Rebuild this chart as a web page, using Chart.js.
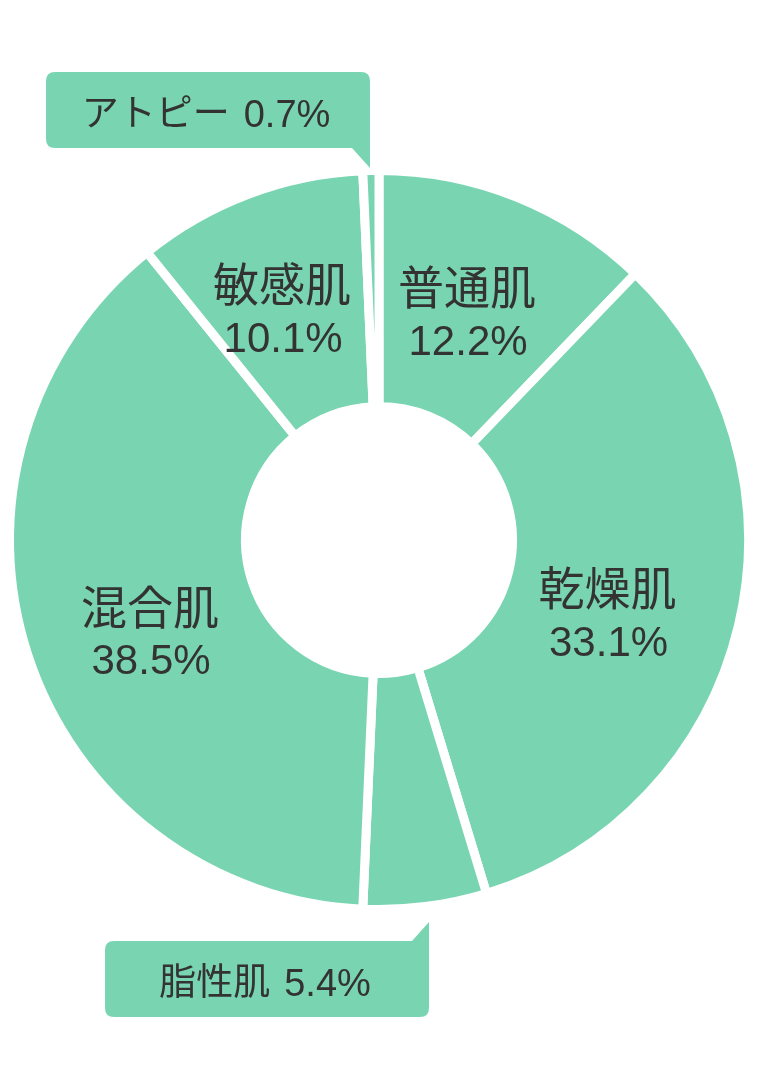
<!DOCTYPE html>
<html lang="ja">
<head>
<meta charset="utf-8">
<title>肌タイプ</title>
<script src="https://cdn.jsdelivr.net/npm/chart.js@4.4.0/dist/chart.umd.min.js"></script>
<style>
    html, body { margin: 0; padding: 0; background: #fff; }
    #wrap { width: 758px; height: 1086px; }
</style>
</head>
<body>
<div id="wrap"><canvas id="skin-chart" width="758" height="1086"></canvas></div>
<script>
// data (clockwise from 12 o'clock)
const skinTypes = ['普通肌', '乾燥肌', '脂性肌', '混合肌', '敏感肌', 'アトピー'];
const skinShares = [12.2, 33.1, 5.4, 38.5, 10.1, 0.7];

const GREEN = '#79d5b1';
const TEXT = '#333333';
const JP_FONT = '"Noto Sans CJK JP", "Noto Sans", sans-serif';
const NUM_FONT = '"Liberation Sans", Arial, sans-serif';

// nudges for in-slice labels, relative to arc centroid
const labelNudge = [[-6, 7], [-16, 16], null, [10, 15], [-8, 6], null];

const fmt = (v) => v.toFixed(1) + '%';

// labels drawn inside the big slices
const sliceLabels = {
    id: 'sliceLabels',
    afterDatasetsDraw(chart) {
        const ctx = chart.ctx;
        const arcs = chart.getDatasetMeta(0).data;
        ctx.save();
        ctx.fillStyle = TEXT;
        ctx.textAlign = 'center';
        arcs.forEach((arc, i) => {
            const nudge = labelNudge[i];
            if (!nudge) return;
            const p = arc.tooltipPosition();
            const x = p.x + nudge[0];
            const y = p.y + nudge[1];
            ctx.textBaseline = 'middle';
            ctx.font = '46px ' + JP_FONT;
            ctx.fillText(skinTypes[i], x, y - 27);
            ctx.textBaseline = 'alphabetic';
            ctx.font = '42px ' + NUM_FONT;
            ctx.fillText(fmt(skinShares[i]), x + 1, y + 41);
        });
        ctx.restore();
    }
};

// speech-bubble callouts for the two thin slices
const callouts = [
    { index: 5, box: [46, 72, 370, 148], tip: 'bottom' },
    { index: 2, box: [105, 941, 429, 1017], tip: 'top' },
];

const calloutPlugin = {
    id: 'callouts',
    afterDatasetsDraw(chart) {
        const ctx = chart.ctx;
        const r = 9;
        ctx.save();
        callouts.forEach(c => {
            const [x0, y0, x1, y1] = c.box;
            ctx.beginPath();
            if (c.tip === 'bottom') {
                ctx.moveTo(x0 + r, y0);
                ctx.lineTo(x1 - r, y0);
                ctx.quadraticCurveTo(x1, y0, x1, y0 + r);
                ctx.lineTo(x1, y1 + 20);
                ctx.lineTo(x1 - 18, y1);
                ctx.lineTo(x0 + r, y1);
                ctx.quadraticCurveTo(x0, y1, x0, y1 - r);
                ctx.lineTo(x0, y0 + r);
                ctx.quadraticCurveTo(x0, y0, x0 + r, y0);
            } else {
                ctx.moveTo(x0 + r, y0);
                ctx.lineTo(x1 - 17, y0);
                ctx.lineTo(x1, y0 - 19);
                ctx.lineTo(x1, y1 - r);
                ctx.quadraticCurveTo(x1, y1, x1 - r, y1);
                ctx.lineTo(x0 + r, y1);
                ctx.quadraticCurveTo(x0, y1, x0, y1 - r);
                ctx.lineTo(x0, y0 + r);
                ctx.quadraticCurveTo(x0, y0, x0 + r, y0);
            }
            ctx.closePath();
            ctx.fillStyle = GREEN;
            ctx.fill();

            // name in the Japanese font, number in a Helvetica-like one
            const name = skinTypes[c.index];
            const num = fmt(skinShares[c.index]);
            const gap = 14;
            ctx.font = '37px ' + JP_FONT;
            const wName = ctx.measureText(name).width;
            ctx.font = '38px ' + NUM_FONT;
            const wNum = ctx.measureText(num).width;
            const left = (x0 + x1) / 2 - 2 - (wName + gap + wNum) / 2;
            const cy = (y0 + y1) / 2;

            ctx.fillStyle = TEXT;
            ctx.textAlign = 'left';
            ctx.textBaseline = 'middle';
            ctx.font = '37px ' + JP_FONT;
            ctx.fillText(name, left, cy + 2);
            ctx.textBaseline = 'alphabetic';
            ctx.font = '38px ' + NUM_FONT;
            ctx.fillText(num, left + wName + gap, cy + 17);
        });
        ctx.restore();
    }
};

new Chart(document.getElementById('skin-chart'), {
    type: 'doughnut',
    data: {
        labels: skinTypes,
        datasets: [{
            data: skinShares,
            backgroundColor: GREEN,
            borderColor: '#ffffff',
            borderWidth: 9,
            hoverOffset: 0,
        }]
    },
    options: {
        responsive: false,
        animation: false,
        devicePixelRatio: 1,
        cutout: 133.5,
        layout: { padding: { left: 5, right: 5, top: 166, bottom: 172 } },
        plugins: {
            legend: { display: false },
            tooltip: { enabled: false },
        },
    },
    plugins: [sliceLabels, calloutPlugin]
});
</script>
</body>
</html>
